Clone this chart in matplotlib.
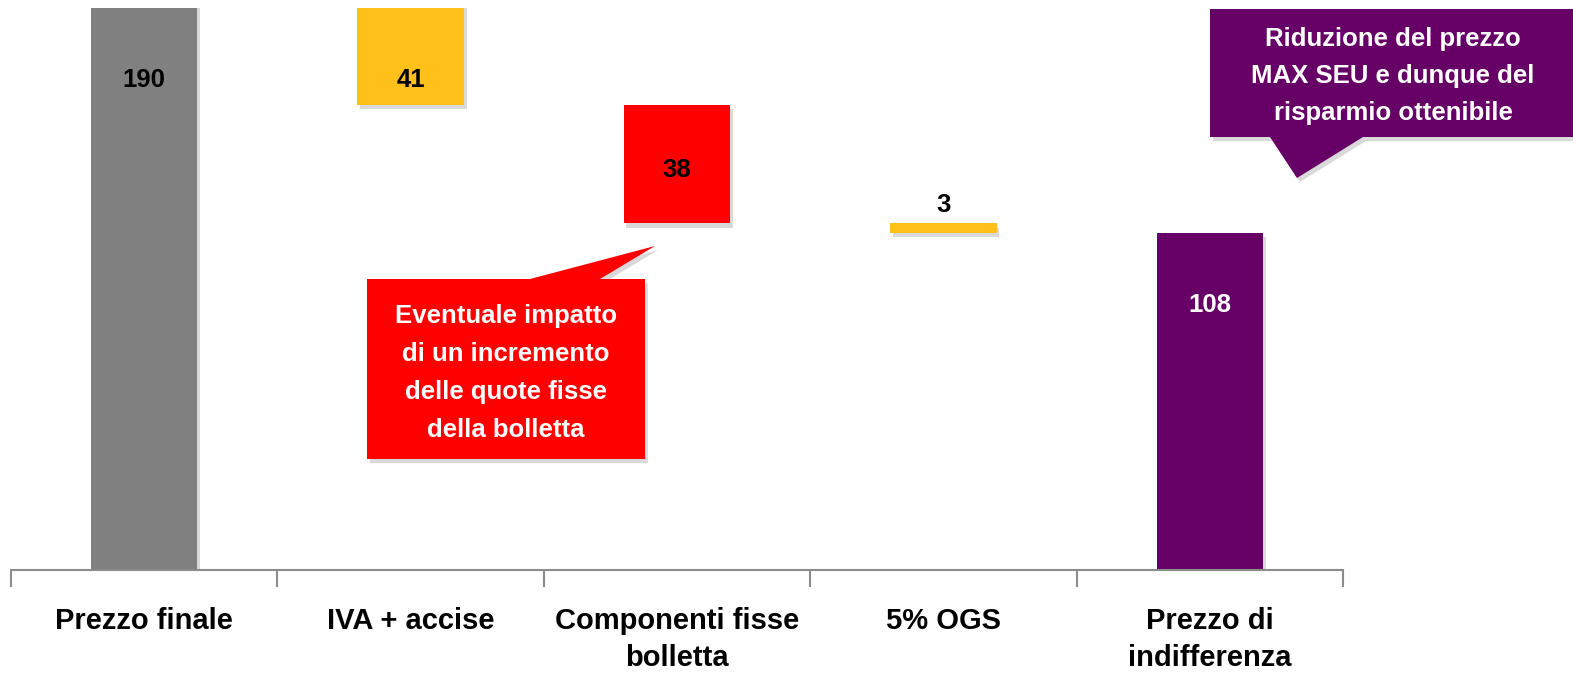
import matplotlib.pyplot as plt
import matplotlib.patheffects as pe
from matplotlib.patches import Polygon

# dati della cascata
categorie = ['Prezzo finale', 'IVA + accise', 'Componenti fisse\nbolletta', '5% OGS', 'Prezzo di\nindifferenza']
valori = [190, 41, 38, 3, 108]
colori = ['#808080', '#FFC01A', '#FF0000', '#FFC01A', '#660066']
col_testo = ['black', 'black', 'black', 'black', 'white']

# base di ogni barra: totali da zero, variazioni appese al livello precedente
basi = [0]
livello = valori[0]
for v in valori[1:-1]:
    livello -= v
    basi.append(livello)
basi.append(0)

nota_rossa = 'Eventuale impatto\ndi un incremento\ndelle quote fisse\ndella bolletta'
nota_viola = 'Riduzione del prezzo\nMAX SEU e dunque del\nrisparmio ottenibile'

plt.rcParams['font.family'] = ['Liberation Sans', 'DejaVu Sans']
plt.rcParams['font.weight'] = 'bold'

W, H = 1573, 673
fig = plt.figure(figsize=(W / 100, H / 100), dpi=100)
ax = fig.add_axes([11 / W, (H - 570) / H, 1332 / W, 562 / H])

ombra = [pe.SimplePatchShadow(offset=(2, -3), alpha=0.22, shadow_rgbFace='#555555'), pe.Normal()]
x = range(len(valori))
barre = ax.bar(x, valori, bottom=basi, width=0.4, color=colori, zorder=2)
for b in barre:
    b.set_path_effects(ombra)

ax.set_xlim(-0.5, 4.5)
ax.set_ylim(0, 180)

# etichette valore
pos_etichette = [157, 157, 128, 117, 85]
for i, v in enumerate(valori):
    ax.text(i, pos_etichette[i], str(v), ha='center', va='center', fontsize=18.5,
            fontweight='bold', color=col_testo[i], zorder=3)

# asse x con tacche tra le categorie
for s in ['top', 'right', 'left']:
    ax.spines[s].set_visible(False)
ax.spines['bottom'].set_color('#8c8c8c')
ax.spines['bottom'].set_linewidth(1.5)
ax.set_yticks([])
ax.set_xticks([i - 0.5 for i in range(len(valori) + 1)])
ax.set_xticklabels([])
ax.tick_params(axis='x', length=12, width=1.5, color='#8c8c8c', direction='out')
for i, c in enumerate(categorie):
    ax.text(i, -0.065, c, transform=ax.get_xaxis_transform(), ha='center', va='top',
            fontsize=21, fontweight='bold', linespacing=1.45, clip_on=False)


def px(punti):
    return [(a / W, 1 - b / H) for a, b in punti]


# richiamo rosso
rosso = Polygon(px([(367, 279), (530, 279), (655, 246), (600, 279), (645, 279),
                    (645, 459), (367, 459)]), closed=True, facecolor='#FF0000',
                edgecolor='none', transform=fig.transFigure, zorder=5)
rosso.set_path_effects(ombra)
fig.add_artist(rosso)
fig.text(506 / W, 1 - 373 / H, nota_rossa, ha='center', va='center', color='white',
         fontsize=18.5, fontweight='bold', linespacing=1.75, zorder=6)

# richiamo viola
viola = Polygon(px([(1210, 9), (1580, 9), (1580, 137), (1363, 137), (1297, 178),
                    (1270, 137), (1210, 137)]), closed=True, facecolor='#660066',
                edgecolor='none', transform=fig.transFigure, zorder=5)
viola.set_path_effects(ombra)
fig.add_artist(viola)
fig.text(1393 / W, 1 - 76 / H, nota_viola, ha='center', va='center', color='white',
         fontsize=18.5, fontweight='bold', linespacing=1.7, zorder=6)

fig.savefig('out.png', dpi=100)
